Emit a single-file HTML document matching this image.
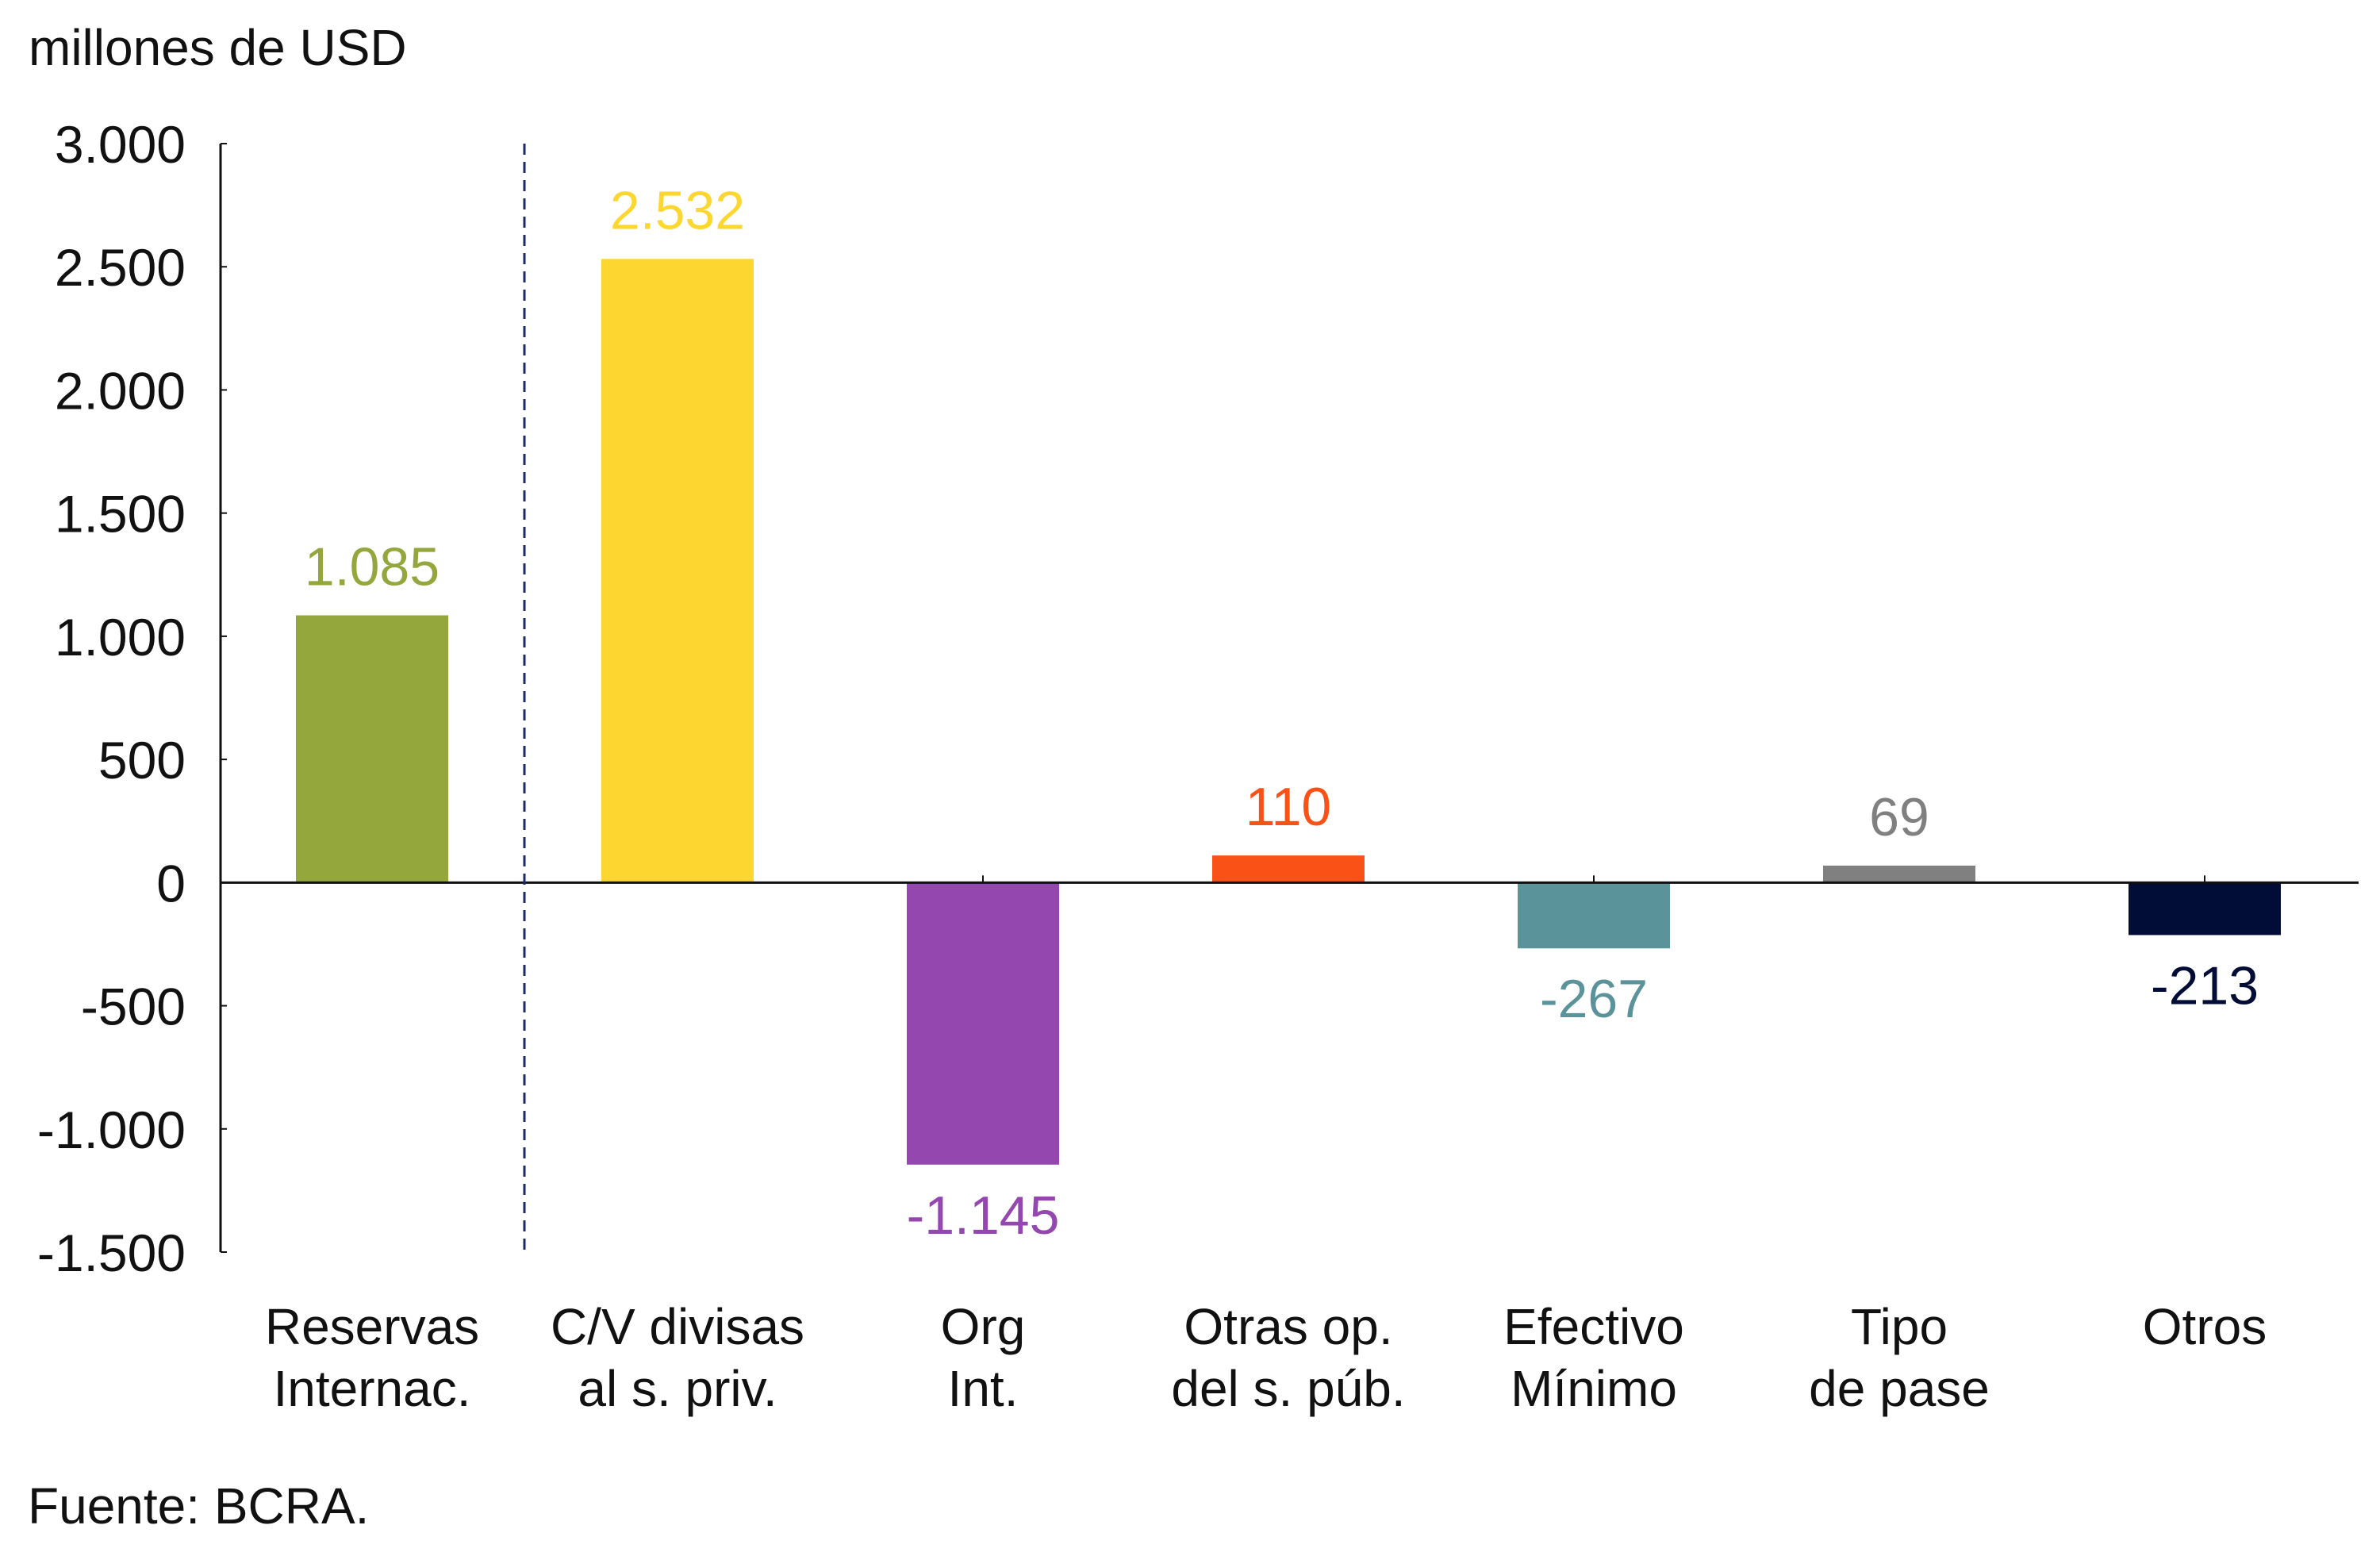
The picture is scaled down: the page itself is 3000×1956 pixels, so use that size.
<!DOCTYPE html>
<html><head><meta charset="utf-8"><style>
html,body{margin:0;padding:0;background:#fff;}
svg{display:block;font-family:"Liberation Sans",sans-serif;}
</style></head><body>
<svg id="chart" width="3000" height="1956" viewBox="0 0 3000 1956">
<text x="36" y="82" font-size="64" fill="#111">millones de USD</text>
<text x="35" y="1920" font-size="64" fill="#111">Fuente: BCRA.</text>
<g id="plot"></g>
</svg>
<script>
const categories = [["Reservas","Internac."],["C/V divisas","al s. priv."],["Org","Int."],["Otras op.","del s. púb."],["Efectivo","Mínimo"],["Tipo","de pase"],["Otros"]];
const values = [1085, 2532, -1145, 110, -267, 69, -213];
const valueLabels = ["1.085","2.532","-1.145","110","-267","69","-213"];
const colors = ["#93a73c","#fdd730","#9547b0","#fa5117","#5a9399","#808080","#020d37"];
const yTicks = [3000,2500,2000,1500,1000,500,0,-500,-1000,-1500];
const yTickLabels = ["3.000","2.500","2.000","1.500","1.000","500","0","-500","-1.000","-1.500"];

const NS = "http://www.w3.org/2000/svg";
const g = document.getElementById("plot");
const axisX = 278, plotRight = 2973, yTop = 181, yBot = 1578, vMax = 3000, vMin = -1500;
const firstCenter = 469, step = 385, barW = 192;
function y(v){ return yTop + (vMax - v) / (vMax - vMin) * (yBot - yTop); }
function xc(i){ return firstCenter + i * step; }
function mk(tag, attrs){ const e = document.createElementNS(NS, tag); for (const k in attrs) e.setAttribute(k, attrs[k]); g.appendChild(e); return e; }

// x ticks (drawn first, hidden behind bars)
values.forEach((v, i) => {
  const tk = mk("line", {x1: xc(i), x2: xc(i), y1: y(0) - 9, y2: y(0), stroke: "#111", "stroke-width": 2});
  
  
});

// bars
values.forEach((v, i) => {
  const r = mk("rect", {x: xc(i) - barW/2, y: Math.min(y(v), y(0)), width: barW, height: Math.abs(y(v) - y(0)), fill: colors[i]});
  
  
  const t = mk("text", {x: xc(i), y: v >= 0 ? y(v) - 38 : y(v) + 87, "font-size": 68, fill: colors[i], "text-anchor": "middle"});
  t.textContent = valueLabels[i];
  
  
  const lines = categories[i];
  lines.forEach((ln, j) => {
    const c = mk("text", {x: xc(i), y: 1694 + j * 78, "font-size": 64, fill: "#111", "text-anchor": "middle"});
    c.textContent = ln;
    
    
  });
});

// y axis
const ya = mk("line", {x1: axisX, x2: axisX, y1: yTop, y2: yBot, stroke: "#111", "stroke-width": 3});


yTicks.forEach((v, i) => {
  const tk = mk("line", {x1: axisX, x2: axisX + 8, y1: y(v), y2: y(v), stroke: "#111", "stroke-width": 2});
  
  
  const t = mk("text", {x: 234, y: y(v) + 24, "font-size": 66, fill: "#111", "text-anchor": "end"});
  t.textContent = yTickLabels[i];
  
  
});
// zero line
const zl = mk("line", {x1: axisX, x2: plotRight, y1: y(0), y2: y(0), stroke: "#111", "stroke-width": 3});


// dashed separator
const ds = mk("line", {x1: 661, x2: 661, y1: yTop, y2: yBot, stroke: "#1b2a6b", "stroke-width": 3, "stroke-dasharray": "14,9"});


</script>
</body></html>
